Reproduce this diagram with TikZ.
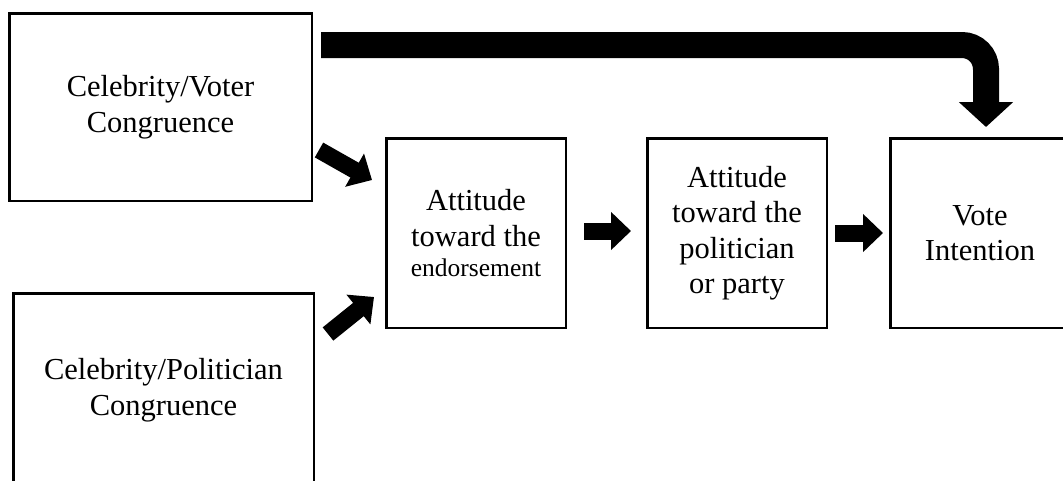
\documentclass[tikz,border=0pt]{standalone}
\usepackage{fontspec}
\setmainfont{Liberation Serif}
\usetikzlibrary{arrows.meta,calc}
\begin{document}
\begin{tikzpicture}[x=1pt,y=-1pt,
  box/.style={draw, line width=2.5pt, align=center, inner sep=0pt,
    font=\fontsize{30.5}{35.5}\selectfont},
  fat/.style={line width=17pt, -{Triangle[length=20pt,width=37pt]}},
  big/.style={line width=26pt, rounded corners=24pt, -{Triangle[length=25pt,width=53pt]}}]
\useasboundingbox (0,0) rectangle (1063,480);
\fill[white] (0,0) rectangle (1063,480);

\node[box, minimum width=302.5pt, minimum height=187.5pt] (b1) at (160.5,107)
  {Celebrity/Voter\\Congruence};
\node[box, minimum width=300.5pt, minimum height=193.5pt] (b2) at (163.5,390)
  {Celebrity/Politician\\Congruence};
\node[box, minimum width=179.5pt, minimum height=189.5pt] (b3) at (476,233)
  {Attitude\\toward the\\[-5.5pt]{\fontsize{25.5}{30}\selectfont endorsement}};
\node[box, minimum width=179.5pt, minimum height=189.5pt] (b4) at (737,233)
  {Attitude\\toward the\\politician\\or party};
\node[box, minimum width=179.5pt, minimum height=189.5pt] (b5) at (980,233)
  {Vote\\Intention};

\coordinate (s13) at ($(b1.south east)+(6,-52)$);
\coordinate (t13) at ($(b3.west)+(-13,-53)$);
\coordinate (s23) at ($(b2.north east)+(13,42)$);
\coordinate (t23) at ($(b3.west)+(-11,64)$);
\coordinate (s15) at ($(b1.north east)+(8,33)$);
\coordinate (t15) at ($(b5.north)+(6,-10)$);

\draw[fat] (s13) -- (t13);
\draw[fat] (s23) -- (t23);
\draw[fat] ([xshift=17pt,yshift=2pt]b3.east) -- ([xshift=-15pt,yshift=2pt]b4.west);
\draw[fat] ([xshift=7pt]b4.east) -- ([xshift=-6pt]b5.west);
\draw[big] (s15) -| (t15);
\end{tikzpicture}
\end{document}
